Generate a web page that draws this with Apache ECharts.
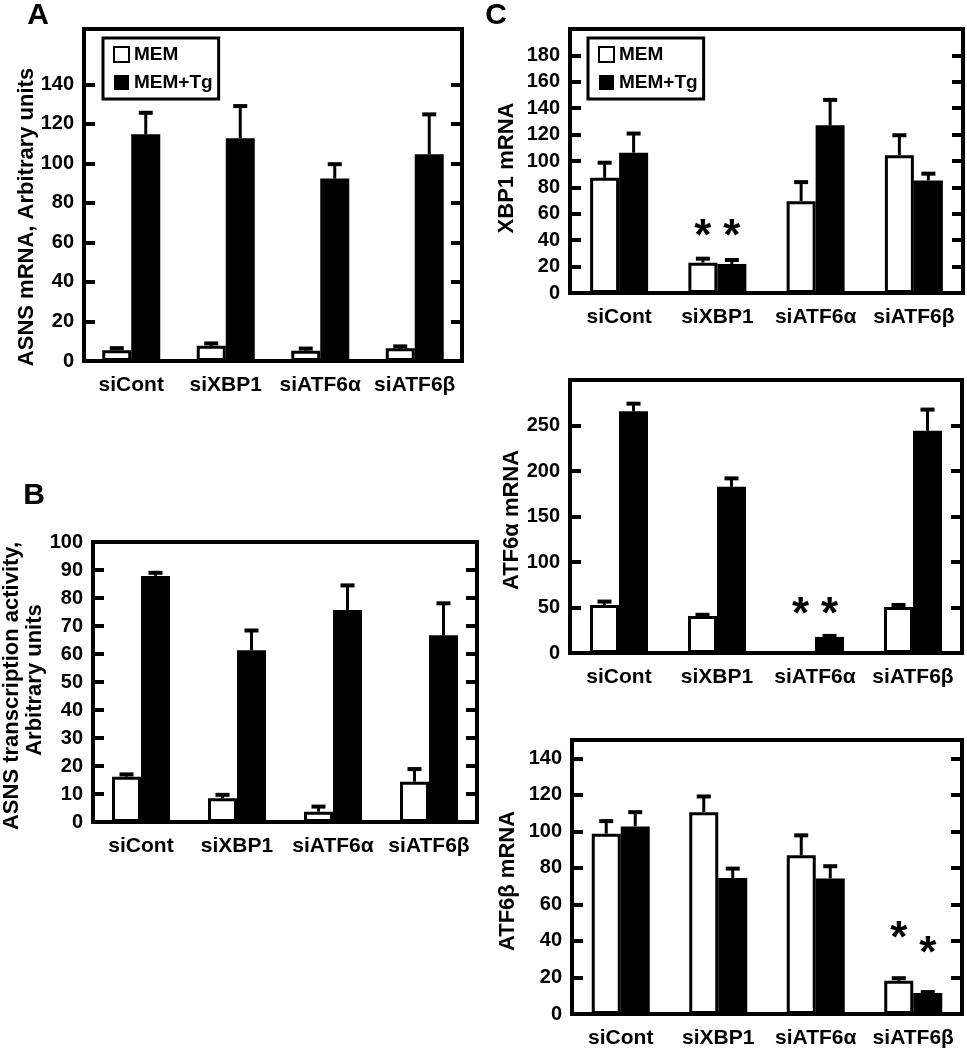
<!DOCTYPE html>
<html>
<head>
<meta charset="utf-8">
<script src="https://cdn.jsdelivr.net/npm/echarts@6/dist/echarts.min.js"></script>
<style>
html,body{margin:0;padding:0;background:#fff;}
#chart{width:967px;height:1050px;}
</style>
</head>
<body>
<div id="chart"></div>
<script>
// ---------- DATA ----------
const categories = ['siCont', 'siXBP1', 'siATF6α', 'siATF6β'];
const seriesNames = ['MEM', 'MEM+Tg'];

// Panel A: ASNS mRNA
const asnsMem   = [5.5, 7.7, 5.2, 6.4];
const asnsMemSd = [1.0, 1.2, 1.1, 1.0];
const asnsTg    = [114.7, 112.7, 92.3, 104.6];
const asnsTgSd  = [10.9, 16.3, 7.3, 20.2];
const ticksA = [0, 20, 40, 60, 80, 100, 120, 140];

// Panel B: ASNS transcription activity
const transMem   = [16.2, 8.5, 3.7, 14.4];
const transMemSd = [0.8, 1.2, 1.8, 4.5];
const transTg    = [87.9, 61.3, 75.7, 66.7];
const transTgSd  = [1.1, 7.1, 8.8, 11.4];
const ticksB = [0, 10, 20, 30, 40, 50, 60, 70, 80, 90, 100];

// Panel C1: XBP1 mRNA
const xbpMem   = [87.3, 23.0, 69.6, 104.3];
const xbpMemSd = [11.4, 3.0, 14.4, 15.2];
const xbpTg    = [106.3, 22.0, 127.0, 85.3];
const xbpTgSd  = [14.5, 3.0, 19.3, 5.1];
const ticksC1 = [0, 20, 40, 60, 80, 100, 120, 140, 160, 180];
const starsC1 = [[1, 0, 48], [1, 1, 48]]; // [category, series, height]

// Panel C2: ATF6alpha mRNA
const atfaMem   = [52.8, 40.6, 0, 50.6];
const atfaMemSd = [3.7, 1.4, 0, 2.2];
const atfaTg    = [265.7, 182.7, 17.7, 244.3];
const atfaTgSd  = [8.3, 9.2, 1.1, 23.2];
const ticksC2 = [0, 50, 100, 150, 200, 250];
const starsC2 = [[2, 0, 50], [2, 1, 50]];

// Panel C3: ATF6beta mRNA
const atfbMem   = [98.7, 110.5, 86.9, 18.2];
const atfbMemSd = [6.9, 8.6, 10.9, 1.4];
const atfbTg    = [102.7, 74.5, 74.2, 11.5];
const atfbTgSd  = [7.8, 5.1, 6.7, 0.5];
const ticksC3 = [0, 20, 40, 60, 80, 100, 120, 140];
const starsC3 = [[3, 0, 44.7], [3, 1, 36.5]];

// ---------- LAYOUT ----------
const FONT = '"Liberation Sans", Arial, sans-serif';

const panels = [
  {mem: asnsMem, memSd: asnsMemSd, tg: asnsTg, tgSd: asnsTgSd, ticks: ticksA, max: 168,
   grid: {left: 84, top: 29, width: 378, height: 332}, legend: {left: 103, top: 38}, stars: []},
  {mem: transMem, memSd: transMemSd, tg: transTg, tgSd: transTgSd, ticks: ticksB, max: 100,
   grid: {left: 93, top: 542, width: 384, height: 280}, stars: []},
  {mem: xbpMem, memSd: xbpMemSd, tg: xbpTg, tgSd: xbpTgSd, ticks: ticksC1, max: 200,
   grid: {left: 570, top: 29, width: 393, height: 264}, legend: {left: 588, top: 38}, stars: starsC1},
  {mem: atfaMem, memSd: atfaMemSd, tg: atfaTg, tgSd: atfaTgSd, ticks: ticksC2, max: 300,
   grid: {left: 570, top: 380, width: 392, height: 273}, stars: starsC2},
  {mem: atfbMem, memSd: atfbMemSd, tg: atfbTg, tgSd: atfbTgSd, ticks: ticksC3, max: 150,
   grid: {left: 572, top: 740, width: 390, height: 274}, stars: starsC3}
];

const BW = 29; // bar width px

const option = {
  animation: false,
  backgroundColor: '#fff',
  grid: [], xAxis: [], yAxis: [], series: [], legend: [],
  graphic: []
};

panels.forEach((p, i) => {
  option.grid.push(Object.assign({show: true, borderColor: '#000', borderWidth: 4, backgroundColor: 'transparent'}, p.grid));
  option.xAxis.push({
    type: 'category', gridIndex: i, data: categories,
    axisLine: {show: true, lineStyle: {color: '#000', width: 4}},
    axisTick: {show: false},
    axisLabel: {interval: 0, color: '#000', fontFamily: FONT, fontWeight: 'bold', fontSize: 21, margin: 14}
  });
  const innerTicks = p.ticks.filter(v => v > 0 && v < p.max);
  option.yAxis.push({
    type: 'value', gridIndex: i, min: 0, max: p.max, position: 'left',
    splitLine: {show: false},
    axisLine: {show: true, lineStyle: {color: '#000', width: 4}},
    axisTick: {show: true, inside: true, length: 11, lineStyle: {color: '#000', width: 4}, customValues: innerTicks},
    axisLabel: {color: '#000', fontFamily: FONT, fontWeight: 'bold', fontSize: 20, margin: 10, customValues: p.ticks}
  });
});
panels.forEach((p, i) => {
  const innerTicks = p.ticks.filter(v => v > 0 && v < p.max);
  option.yAxis.push({
    type: 'value', gridIndex: i, min: 0, max: p.max, position: 'right',
    splitLine: {show: false},
    axisLine: {show: true, lineStyle: {color: '#000', width: 4}},
    axisTick: {show: true, inside: true, length: 11, lineStyle: {color: '#000', width: 4}, customValues: innerTicks},
    axisLabel: {show: false}
  });
});

function errSeries(i, vals, sds, side) {
  return {
    type: 'custom', name: 'err' + i + '_' + side, xAxisIndex: i, yAxisIndex: i, z: 5,
    silent: true,
    data: vals.map((v, k) => [k, v, v + sds[k]]),
    renderItem: function (params, api) {
      if (api.value(2) <= api.value(1)) return null;
      const base = api.coord([api.value(0), api.value(1)]);
      const top = api.coord([api.value(0), api.value(2)]);
      const x = base[0] + (side === 0 ? -BW / 2 : BW / 2);
      return {
        type: 'group', children: [
          {type: 'line', shape: {x1: x, y1: base[1], x2: x, y2: top[1]}, style: {stroke: '#000', lineWidth: 3}},
          {type: 'line', shape: {x1: x - 7, y1: top[1], x2: x + 7, y2: top[1]}, style: {stroke: '#000', lineWidth: 4}}
        ]
      };
    }
  };
}

function starSeries(i, stars) {
  return {
    type: 'custom', name: 'star' + i, xAxisIndex: i, yAxisIndex: i, z: 6, silent: true,
    data: stars,
    renderItem: function (params, api) {
      const c = api.coord([api.value(0), api.value(2)]);
      const x = c[0] + (api.value(1) === 0 ? -BW / 2 : BW / 2);
      return {
        type: 'text', x: x, y: c[1] + 8,
        style: {text: '*', fontSize: 44, fontWeight: 'bold', fontFamily: FONT, fill: '#000', align: 'center', verticalAlign: 'middle'}
      };
    }
  };
}

panels.forEach((p, i) => {
  option.series.push({
    type: 'bar', name: seriesNames[0], xAxisIndex: i, yAxisIndex: i, data: p.mem,
    barWidth: BW, barGap: '0%',
    itemStyle: {color: '#fff', borderColor: '#000', borderWidth: 3}
  });
  option.series.push({
    type: 'bar', name: seriesNames[1], xAxisIndex: i, yAxisIndex: i, data: p.tg,
    barWidth: BW, barGap: '0%',
    itemStyle: {color: '#000', borderColor: '#000', borderWidth: 0}
  });
  option.series.push(errSeries(i, p.mem, p.memSd, 0));
  option.series.push(errSeries(i, p.tg, p.tgSd, 1));
  if (p.stars.length) option.series.push(starSeries(i, p.stars));
  if (p.legend) {
    option.legend.push({
      data: seriesNames, orient: 'vertical', left: p.legend.left, top: p.legend.top,
      itemWidth: 15, itemHeight: 15, itemGap: 9, icon: 'rect',
      padding: [7, 6, 7, 10], borderColor: '#000', borderWidth: 3,
      selectedMode: false,
      textStyle: {color: '#000', fontFamily: FONT, fontWeight: 'bold', fontSize: 19}
    });
  }
});

// Panel letters and axis titles
function txt(t, x, y, size, rot, weight) {
  return {
    type: 'text', x: x, y: y, rotation: rot || 0,
    style: {text: t, fontSize: size, fontWeight: weight || 'bold', fontFamily: FONT, fill: '#000',
            align: 'center', verticalAlign: 'middle'}
  };
}
const R = Math.PI / 2;
option.graphic = [
  txt('A', 38, 16, 30),
  txt('B', 34, 496, 30),
  txt('C', 496, 16, 30),
  txt('ASNS mRNA, Arbitrary units', 27, 217, 22, R),
  txt('ASNS transcription activity,', 12, 686, 22, R),
  txt('Arbitrary units', 35, 680, 22, R),
  txt('XBP1 mRNA', 507, 168, 22, R),
  txt('ATF6α mRNA', 512, 520, 22, R),
  txt('ATF6β mRNA', 508, 881, 22, R)
];

const chart = echarts.init(document.getElementById('chart'), null, {renderer: 'canvas'});
chart.setOption(option);
</script>
</body>
</html>
